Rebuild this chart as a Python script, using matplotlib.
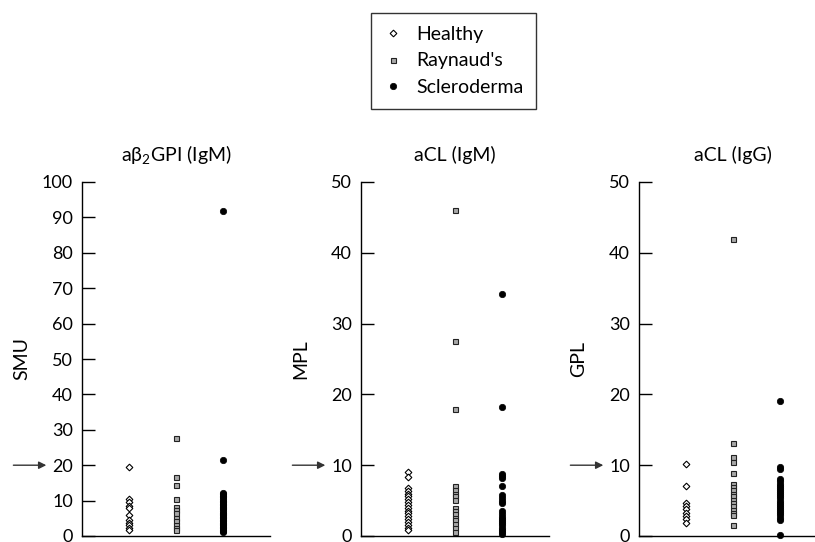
import matplotlib
matplotlib.use("Agg")
import matplotlib.pyplot as plt

plt.rcParams['font.family'] = ['Lato', 'DejaVu Sans']
plt.rcParams['mathtext.default'] = 'regular'

groups = ["Healthy", "Raynaud's", "Scleroderma"]
titles = [r"a$\beta_2$GPI (IgM)", "aCL (IgM)", "aCL (IgG)"]
ylabels = ["SMU", "MPL", "GPL"]
ymax = [100, 50, 50]
ystep = [10, 10, 10]
cutoffs = [20, 10, 10]

# aB2GPI IgM (SMU)
smu_healthy = [19.4, 10.5, 9.6, 8.6, 8.0, 5.8, 4.6, 3.8, 3.0, 2.4, 1.7]
smu_raynaud = [27.8, 16.8, 14.4, 10.5, 8.2, 7.4, 6.6, 5.0, 4.2, 3.2, 2.4, 1.6]
smu_sclero = [91.8, 21.5, 12.2, 11.8, 11.3, 10.9, 10.5, 10.0, 9.6, 9.1, 8.7, 8.3,
              7.9, 7.5, 7.0, 6.6, 6.2, 5.8, 5.4, 5.0, 4.6, 4.2, 3.8, 3.4, 3.0,
              2.6, 2.2, 1.8, 1.4, 1.1]

# aCL IgM (MPL)
mpl_healthy = [9.0, 8.3, 6.8, 6.4, 6.0, 5.6, 5.2, 4.8, 4.4, 4.0, 3.6, 3.2, 2.8,
               2.4, 2.0, 1.6, 1.2, 0.9]
mpl_raynaud = [46.0, 27.6, 17.9, 7.0, 6.5, 6.0, 5.6, 5.1, 4.0, 3.5, 3.1, 2.6,
               2.2, 1.7, 1.1, 0.5]
mpl_sclero = [34.2, 18.2, 8.8, 8.5, 8.2, 7.0, 5.8, 5.4, 5.0, 4.7, 3.5, 3.1, 2.7,
              2.4, 2.1, 1.8, 1.5, 1.2, 0.9, 0.6, 0.3]

# aCL IgG (GPL)
gpl_healthy = [10.2, 7.0, 4.6, 4.2, 3.8, 3.3, 2.8, 2.4, 1.9]
gpl_raynaud = [41.9, 13.2, 11.1, 10.5, 8.9, 7.3, 6.9, 6.5, 6.0, 5.6, 5.1, 4.6,
               4.2, 3.7, 3.3, 2.9, 1.6]
gpl_sclero = [19.1, 9.7, 9.4, 8.0, 7.7, 7.4, 7.1, 6.8, 6.5, 6.2, 5.9, 5.6, 5.3,
              5.0, 4.7, 4.4, 4.1, 3.8, 3.5, 3.2, 2.9, 2.6, 2.3, 0.2]

panels = [
    [smu_healthy, smu_raynaud, smu_sclero],
    [mpl_healthy, mpl_raynaud, mpl_sclero],
    [gpl_healthy, gpl_raynaud, gpl_sclero],
]

styles = [
    dict(marker='D', markersize=3.4, markerfacecolor='white', markeredgecolor='black', markeredgewidth=0.8),
    dict(marker='s', markersize=3.6, markerfacecolor='#a8a8a8', markeredgecolor='#222222', markeredgewidth=0.8),
    dict(marker='o', markersize=4.6, markerfacecolor='black', markeredgecolor='black', markeredgewidth=0.5),
]

W, H = 815, 542
fig = plt.figure(figsize=(W / 100, H / 100), dpi=100)

lefts = [82, 361, 639]
ax_w = 188
ax_top, ax_bot = 182, 536
handles = []
for i, left in enumerate(lefts):
    ax = fig.add_axes([left / W, (H - ax_bot) / H, ax_w / W, (ax_bot - ax_top) / H])
    for j, vals in enumerate(panels[i]):
        h, = ax.plot([j + 1] * len(vals), vals, linestyle='none', label=groups[j],
                     clip_on=False, **styles[j])
        if i == 0:
            handles.append(h)
    ax.set_xlim(0, 4)
    ax.set_ylim(0, ymax[i])
    ax.set_yticks(range(0, ymax[i] + 1, ystep[i]))
    ax.set_xticks([])
    for s in ['top', 'right']:
        ax.spines[s].set_visible(False)
    for s in ['left', 'bottom']:
        ax.spines[s].set_linewidth(1.0)
    ax.tick_params(axis='y', direction='in', length=9.5, width=1.0, pad=6.5,
                   labelsize=13, colors='black')
    ax.set_title(titles[i], fontsize=14, pad=15)
    ax.set_ylabel(ylabels[i], fontsize=14)
    ax.yaxis.set_label_coords(-0.275, 0.5)
    ax.annotate('', xy=(-0.19, cutoffs[i]), xytext=(-0.365, cutoffs[i]),
                xycoords=('axes fraction', 'data'), textcoords=('axes fraction', 'data'),
                arrowprops=dict(arrowstyle='-|>', color='#333333', lw=1.0,
                                mutation_scale=11, shrinkA=0, shrinkB=0),
                annotation_clip=False)

leg = fig.legend(handles=handles, loc='upper center',
                 bbox_to_anchor=(453.5 / W, 1 - 13 / H), fontsize=14,
                 frameon=True, fancybox=False, edgecolor='black',
                 handlelength=1.0, handletextpad=0.7, borderpad=0.65,
                 labelspacing=0.5, borderaxespad=0, markerscale=1.0)
leg.get_frame().set_linewidth(1.0)

fig.savefig('out.png', dpi=100)
